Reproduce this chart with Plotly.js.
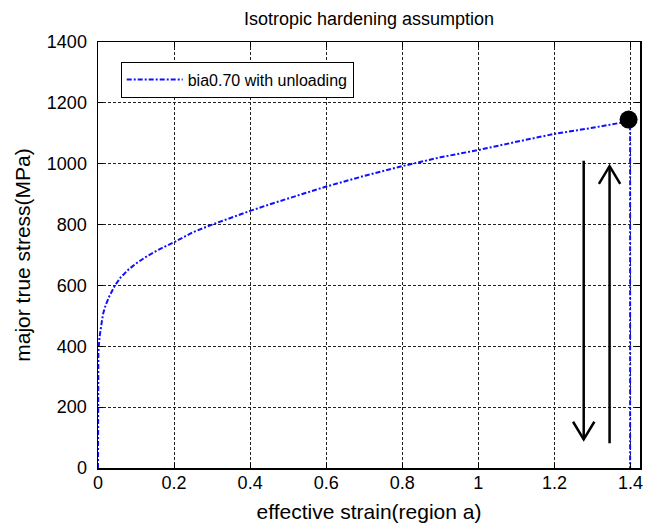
<!DOCTYPE html>
<html>
<head>
<meta charset="utf-8">
<script src="https://cdn.plot.ly/plotly-3.0.1.min.js"></script>
<style>
  html, body { margin: 0; padding: 0; background: #fff; }
  #chart { width: 661px; height: 530px; }
</style>
</head>
<body>
<div id="chart"></div>
<script>
// Loading curve followed by elastic unloading (effective strain vs major true stress)
const strain = [0, 0.001, 0.004, 0.008, 0.013, 0.02, 0.03, 0.045, 0.06, 0.08, 0.1, 0.13, 0.16,
                0.2, 0.25, 0.3, 0.35, 0.4, 0.45, 0.5, 0.6, 0.7, 0.8, 0.9, 1.0, 1.1, 1.2, 1.3,
                1.35, 1.399, 1.399];
const stress = [0, 380, 430, 470, 505, 535, 565, 601, 627, 652, 672, 697, 718,
                742, 775, 800, 823, 845, 866, 885, 925, 960, 992, 1021, 1045, 1072, 1098, 1118,
                1129, 1140, 0];
const seriesName = 'bia0.70 with unloading';

// Unloading start point
const peakStrain = [1.395];
const peakStress = [1145];

// Unloading / reloading arrows (strain position, start stress, end stress)
const arrowStrain = [1.277, 1.345];
const arrowFrom = [1010, 81];
const arrowTo = [94, 992];

const xTicks = [0, 0.2, 0.4, 0.6, 0.8, 1, 1.2, 1.4];
const yTicks = [0, 200, 400, 600, 800, 1000, 1200, 1400];

const FONT = 'Liberation Sans, Arial, Helvetica, sans-serif';
const headHalfW = 0.028;    // arrow head half width (strain units)
const headLen = 58;         // arrow head length (stress units)

const shapes = [];
arrowStrain.forEach((x, i) => {
  const y0 = arrowFrom[i], y1 = arrowTo[i];
  const dir = y1 > y0 ? -1 : 1;
  shapes.push({type: 'line', xref: 'x', yref: 'y', x0: x, x1: x, y0: y0, y1: y1,
               line: {color: '#000', width: 2.5}, layer: 'above'});
  shapes.push({type: 'path', xref: 'x', yref: 'y', layer: 'above',
               path: `M${x - headHalfW},${y1 + dir * headLen} L${x},${y1} L${x + headHalfW},${y1 + dir * headLen}`,
               line: {color: '#000', width: 2.5}});
});

const traces = [
  {
    x: strain, y: stress, type: 'scatter', mode: 'lines', name: seriesName,
    line: {color: '#1010ff', width: 2, dash: '5px,2px,2px,2px'}
  },
  {
    x: peakStrain, y: peakStress, type: 'scatter', mode: 'markers', showlegend: false,
    marker: {color: '#000', size: 18}
  }
];

const axisCommon = {
  showline: true, linecolor: '#000', linewidth: 1.5, mirror: 'ticks',
  ticks: 'inside', ticklen: 5, tickcolor: '#000', tickwidth: 1,
  showgrid: true, gridcolor: '#222', gridwidth: 1, griddash: '3px,2px',
  zeroline: false, tickfont: {family: FONT, size: 18, color: '#000'}
};

const layout = {
  width: 661, height: 530,
  margin: {l: 98, r: 21, t: 42, b: 62},
  paper_bgcolor: '#fff', plot_bgcolor: '#fff',
  title: {text: 'Isotropic hardening assumption', font: {family: FONT, size: 18, color: '#000'},
          xref: 'paper', x: 0.5, xanchor: 'center', yref: 'container', y: 0.965, yanchor: 'middle'},
  xaxis: Object.assign({}, axisCommon, {
    range: [0, 1.425], tickvals: xTicks, ticktext: xTicks.map(String),
    ticklabelstandoff: -2,
    title: {text: 'effective strain(region a)', font: {family: FONT, size: 21, color: '#000'}, standoff: 12}
  }),
  yaxis: Object.assign({}, axisCommon, {
    range: [0, 1400], tickvals: yTicks, ticktext: yTicks.map(String),
    ticklabelstandoff: 6,
    title: {text: 'major true stress(MPa)', font: {family: FONT, size: 21, color: '#000'}, standoff: 10}
  }),
  showlegend: true,
  legend: {x: 0.0419, y: 0.9538, xanchor: 'left', yanchor: 'top',
           bgcolor: '#fff', bordercolor: '#000', borderwidth: 1,
           font: {family: FONT, size: 16, color: '#000'}, itemwidth: 56},
  shapes: shapes
};

Plotly.newPlot('chart', traces, layout, {displayModeBar: false, staticPlot: true});
</script>
</body>
</html>
